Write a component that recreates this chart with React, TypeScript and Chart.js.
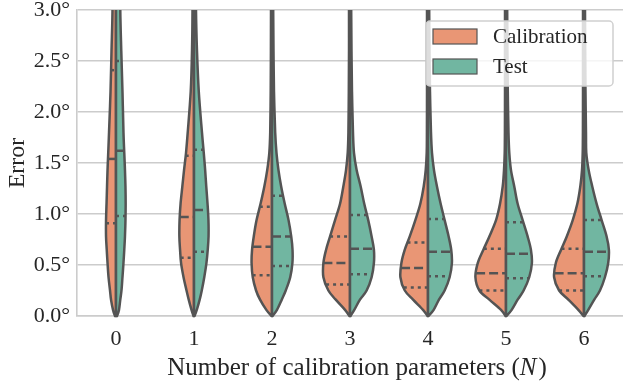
import React, { useEffect, useRef } from 'react';
import { Chart, registerables } from 'chart.js';

Chart.register(...registerables);

// ---------- data ----------
const CATEGORIES = ['0', '1', '2', '3', '4', '5', '6'];
const SERIES_NAMES = ['Calibration', 'Test'];
const Y_TICKS = [0, 0.5, 1.0, 1.5, 2.0, 2.5, 3.0];

// error levels (degrees) at which the density half-widths were read
const DENSITY_LEVELS = [0, 0.06, 0.16, 0.25, 0.38, 0.52, 0.65, 0.78, 0.94, 1.1, 1.27, 1.43, 1.6, 1.8, 2.2, 2.6, 3.0];

// density half-widths (arbitrary density units) per category
const CAL_DENSITY = [
  [1, 3, 5, 6, 7.5, 8.5, 9.3, 10, 10, 9.5, 9, 8.5, 7.8, 7, 5.5, 4.5, 3.5],
  [0.5, 2.5, 5.3, 7.5, 10.5, 13, 14, 14.7, 14.5, 13.5, 11.7, 10, 8, 6.3, 3.3, 2, 1.5],
  [0.5, 5.7, 12, 16, 19.3, 20.5, 20, 18.3, 15.5, 11.5, 7.7, 4.8, 2.7, 1.8, 1.3, 1.1, 1],
  [0.5, 5, 14.3, 21.7, 26.7, 26.7, 24, 20, 15, 10, 6.7, 4, 2.3, 1.6, 1.2, 1, 1],
  [0.5, 5, 15, 23.3, 27.7, 26.7, 23.3, 18.3, 12.7, 7.7, 4.3, 2.3, 1.3, 1.1, 1, 1, 1],
  [0.5, 5, 16.7, 26.7, 30.7, 28.3, 22.7, 16.7, 10, 6, 3.3, 2, 1.3, 1.1, 1, 1, 1],
  [0.5, 5.7, 15.7, 25, 30, 28.3, 23, 17.3, 11.3, 6.7, 3.7, 2, 1.3, 1.1, 1, 1, 1],
];
const TEST_DENSITY = [
  [1, 3, 4.3, 5.5, 6.5, 7.5, 8.3, 9, 9.5, 9.7, 9.5, 9, 8.3, 7.5, 6.5, 5.3, 4.3],
  [0.5, 2.8, 5.7, 7.8, 10.3, 12.5, 13.8, 14.6, 14.5, 13.6, 12.3, 11.2, 9.8, 8, 4.8, 3, 2],
  [0.5, 5, 9.8, 13.8, 18.3, 20.5, 20.6, 19.3, 16.6, 12.8, 9.2, 6.5, 4.5, 3.2, 2, 1.5, 1.2],
  [0.5, 4.3, 10, 16.7, 21.7, 24, 24, 21.7, 18.3, 14.3, 10.7, 6.7, 4, 3, 2, 1.5, 1.2],
  [0.5, 5.7, 11, 16.7, 21.7, 24, 23.3, 20.7, 16.7, 12.7, 9, 6, 4, 3, 2, 1.5, 1.2],
  [0.5, 5.7, 11.7, 17.7, 23.3, 26, 25, 21.7, 16.7, 11.7, 8.3, 5, 3.3, 2.5, 1.8, 1.4, 1.2],
  [0.5, 4.3, 10.3, 16, 21, 24.3, 25, 22.7, 17.7, 12.7, 8.3, 4.7, 2.3, 2, 1.5, 1.2, 1],
];

// quartiles [Q1, median, Q3] per category
const CAL_QUARTILES = [
  [0.91, 1.54, 2.41],
  [0.57, 0.97, 1.57],
  [0.40, 0.68, 1.07],
  [0.31, 0.52, 0.78],
  [0.28, 0.47, 0.72],
  [0.25, 0.42, 0.66],
  [0.25, 0.42, 0.66],
];
const TEST_QUARTILES = [
  [0.98, 1.62, 2.50],
  [0.63, 1.04, 1.63],
  [0.49, 0.78, 1.18],
  [0.41, 0.66, 0.99],
  [0.39, 0.63, 0.95],
  [0.37, 0.61, 0.92],
  [0.39, 0.63, 0.94],
];

// ---------- style ----------
const FONT = "'Liberation Serif', 'Times New Roman', serif";
const TEXT_COLOR = '#262626';
const GRID_COLOR = '#cccccc';
const OUTLINE = '#545454';
const COLORS = ['#e99675', '#71b6a1'];
const DENSITY_TO_X = 1 / 78.3; // density unit -> category units

type Pt = { x: number; y: number };

function smoothTo(ctx: CanvasRenderingContext2D, pts: Pt[]) {
  for (let i = 0; i < pts.length - 1; i++) {
    const p0 = pts[i - 1] || pts[i];
    const p1 = pts[i];
    const p2 = pts[i + 1];
    const p3 = pts[i + 2] || p2;
    ctx.bezierCurveTo(
      p1.x + (p2.x - p0.x) / 6,
      p1.y + (p2.y - p0.y) / 6,
      p2.x - (p3.x - p1.x) / 6,
      p2.y - (p3.y - p1.y) / 6,
      p2.x,
      p2.y
    );
  }
}

function densAt(dens: number[], v: number) {
  for (let k = 0; k < DENSITY_LEVELS.length - 1; k++) {
    const a = DENSITY_LEVELS[k], b = DENSITY_LEVELS[k + 1];
    if (v >= a && v <= b) {
      const t = (v - a) / (b - a);
      return dens[k] + (dens[k + 1] - dens[k]) * t;
    }
  }
  return dens[dens.length - 1];
}

const violinPlugin = {
  id: 'violins',
  afterDatasetsDraw(chart: any) {
    const { ctx, chartArea, scales } = chart;
    const xs = scales.x;
    const ys = scales.y;
    const unit = Math.abs(xs.getPixelForValue(1) - xs.getPixelForValue(0));
    ctx.save();
    ctx.beginPath();
    ctx.rect(chartArea.left, chartArea.top, chartArea.right - chartArea.left, chartArea.bottom - chartArea.top + 4);
    ctx.clip();
    CATEGORIES.forEach((_, i) => {
      const cx = xs.getPixelForValue(i);
      [0, 1].forEach((s) => {
        const side = s === 0 ? -1 : 1;
        const dens = s === 0 ? CAL_DENSITY[i] : TEST_DENSITY[i];
        const quarts = s === 0 ? CAL_QUARTILES[i] : TEST_QUARTILES[i];
        const pts: Pt[] = DENSITY_LEVELS.map((v, k) => ({
          x: cx + side * dens[k] * DENSITY_TO_X * unit,
          y: ys.getPixelForValue(v),
        }));
        const last = pts[pts.length - 1];
        pts.push({ x: last.x, y: ys.getPixelForValue(3.4) });
        ctx.beginPath();
        ctx.moveTo(cx, pts[0].y);
        ctx.lineTo(pts[0].x, pts[0].y);
        smoothTo(ctx, pts);
        ctx.lineTo(cx, pts[pts.length - 1].y);
        ctx.closePath();
        ctx.fillStyle = COLORS[s];
        ctx.fill();
        ctx.lineWidth = 2.5;
        ctx.lineJoin = 'round';
        ctx.strokeStyle = OUTLINE;
        ctx.setLineDash([]);
        ctx.stroke();

        // quartile lines
        quarts.forEach((q, qi) => {
          const w = densAt(dens, q) * DENSITY_TO_X * unit;
          const y = ys.getPixelForValue(q);
          ctx.beginPath();
          if (side < 0) {
            ctx.moveTo(cx - w, y);
            ctx.lineTo(cx, y);
          } else {
            ctx.moveTo(cx, y);
            ctx.lineTo(cx + w, y);
          }
          ctx.lineWidth = 2.5;
          ctx.lineCap = 'butt';
          ctx.setLineDash(qi === 1 ? [9, 4] : [3, 4]);
          ctx.strokeStyle = OUTLINE;
          ctx.stroke();
        });
        ctx.setLineDash([]);
      });
    });
    ctx.restore();
  },
  afterDraw(chart: any) {
    const { ctx, chartArea } = chart;
    ctx.save();
    // x axis title with italic N
    const size = 25;
    const p1 = 'Number of calibration parameters (';
    const p2 = 'N';
    const p3 = ')';
    ctx.font = `${size}px ${FONT}`;
    const w1 = ctx.measureText(p1).width;
    const w3 = ctx.measureText(p3).width;
    ctx.font = `italic ${size}px ${FONT}`;
    const w2 = ctx.measureText(p2).width + 2;
    const total = w1 + w2 + w3;
    let x = (chartArea.left + chartArea.right) / 2 + 7 - total / 2;
    const yb = chartArea.bottom + 59;
    ctx.fillStyle = TEXT_COLOR;
    ctx.textBaseline = 'alphabetic';
    ctx.textAlign = 'left';
    ctx.font = `${size}px ${FONT}`;
    ctx.fillText(p1, x, yb);
    x += w1;
    ctx.font = `italic ${size}px ${FONT}`;
    ctx.fillText(p2, x, yb);
    x += w2;
    ctx.font = `${size}px ${FONT}`;
    ctx.fillText(p3, x, yb);

    // legend
    const lw = 187, lh = 65;
    const lx = chartArea.right - 10 - lw;
    const ly = chartArea.top + 11;
    ctx.beginPath();
    if ((ctx as any).roundRect) (ctx as any).roundRect(lx, ly, lw, lh, 4);
    else ctx.rect(lx, ly, lw, lh);
    ctx.fillStyle = 'rgba(255,255,255,0.8)';
    ctx.fill();
    ctx.lineWidth = 1.5;
    ctx.strokeStyle = '#d0d0d0';
    ctx.stroke();
    SERIES_NAMES.forEach((name, i) => {
      const py = ly + 8 + i * 30;
      ctx.fillStyle = COLORS[i];
      ctx.fillRect(lx + 7, py, 44, 15);
      ctx.lineWidth = 1.2;
      ctx.strokeStyle = OUTLINE;
      ctx.strokeRect(lx + 7, py, 44, 15);
      ctx.fillStyle = TEXT_COLOR;
      ctx.font = `21px ${FONT}`;
      ctx.textBaseline = 'middle';
      ctx.fillText(name, lx + 67, py + 8);
    });
    ctx.restore();
  },
};

export default function App() {
  const ref = useRef<HTMLCanvasElement | null>(null);
  useEffect(() => {
    if (!ref.current) return;
    const chart = new Chart(ref.current, {
      type: 'scatter',
      data: { datasets: [] },
      options: {
        animation: false,
        responsive: false,
        layout: { padding: { top: 10, right: 0, left: 0, bottom: 0 } },
        plugins: { legend: { display: false }, tooltip: { enabled: false } },
        scales: {
          x: {
            type: 'linear',
            min: -0.5,
            max: 6.5,
            afterBuildTicks: (s: any) => {
              s.ticks = CATEGORIES.map((_, i) => ({ value: i }));
            },
            afterFit: (s: any) => {
              s.height = 69;
              s.paddingLeft = 0;
              s.paddingRight = 0;
            },
            ticks: {
              callback: (v: any) => CATEGORIES[Math.round(Number(v))],
              font: { family: FONT, size: 22 },
              color: TEXT_COLOR,
              padding: 10,
              maxRotation: 0,
            },
            grid: { display: false, drawTicks: false },
            border: { display: true, color: GRID_COLOR, width: 1.6 },
          },
          y: {
            type: 'linear',
            min: 0,
            max: 3,
            afterBuildTicks: (s: any) => {
              s.ticks = Y_TICKS.map((v) => ({ value: v }));
            },
            afterFit: (s: any) => {
              s.width = 77;
              s.paddingTop = 0;
              s.paddingBottom = 0;
            },
            ticks: {
              callback: (v: any) => Number(v).toFixed(1) + '°',
              font: { family: FONT, size: 22 },
              color: TEXT_COLOR,
              padding: 7,
            },
            grid: { color: GRID_COLOR, lineWidth: 1.6, drawTicks: false },
            border: { display: true, color: GRID_COLOR, width: 1.6 },
            title: {
              display: true,
              text: 'Error',
              font: { family: FONT, size: 24 },
              color: TEXT_COLOR,
              padding: { top: 3, bottom: 0 },
            },
          },
        },
      },
      plugins: [violinPlugin],
    } as any);
    return () => chart.destroy();
  }, []);
  return (
    <div style={{ position: 'absolute', left: 0, top: 0, width: 623, height: 385 }}>
      <canvas ref={ref} width={623} height={385} />
    </div>
  );
}
